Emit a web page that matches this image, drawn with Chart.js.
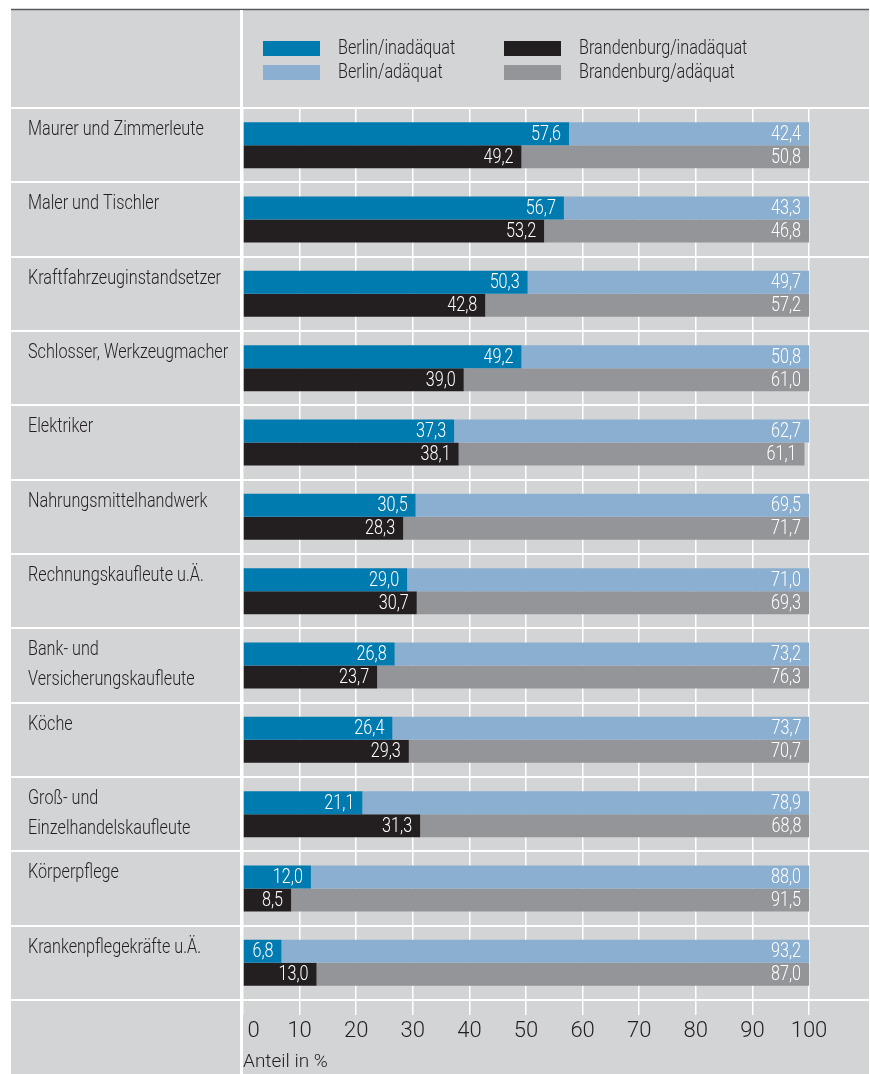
<!DOCTYPE html>
<html lang="de">
<head>
<meta charset="utf-8">
<title>Inadäquate / adäquate Beschäftigung nach Berufen</title>
<script src="https://cdn.jsdelivr.net/npm/chart.js@4.4.1/dist/chart.umd.min.js"></script>
<style>
  html, body { margin: 0; padding: 0; background: #fff; }
  #wrap { width: 870px; height: 1074px; }
</style>
</head>
<body>
<div id="wrap"><canvas id="shareChart" width="870" height="1074"></canvas></div>
<script>
const categories = [
  'Maurer und Zimmerleute',
  'Maler und Tischler',
  'Kraftfahrzeuginstandsetzer',
  'Schlosser, Werkzeugmacher',
  'Elektriker',
  'Nahrungsmittelhandwerk',
  'Rechnungskaufleute u.Ä.',
  ['Bank- und', 'Versicherungskaufleute'],
  'Köche',
  ['Groß- und', 'Einzelhandelskaufleute'],
  'Körperpflege',
  'Krankenpflegekräfte u.Ä.'
];
const berlinInadequate = [57.6, 56.7, 50.3, 49.2, 37.3, 30.5, 29.0, 26.8, 26.4, 21.1, 12.0, 6.8];
const berlinAdequate = [42.4, 43.3, 49.7, 50.8, 62.7, 69.5, 71.0, 73.2, 73.7, 78.9, 88.0, 93.2];
const brandenburgInadequate = [49.2, 53.2, 42.8, 39.0, 38.1, 28.3, 30.7, 23.7, 29.3, 31.3, 8.5, 13.0];
const brandenburgAdequate = [50.8, 46.8, 57.2, 61.0, 61.1, 71.7, 69.3, 76.3, 70.7, 68.8, 91.5, 87.0];
const tickValues = [0, 10, 20, 30, 40, 50, 60, 70, 80, 90, 100];
const axisTitle = 'Anteil in %';

(function () {
  'use strict';

  const FONT = 'Roboto, "Open Sans", sans-serif';
  const TEXT = '#231f20';
  const BG = '#d3d4d6';
  const SQUEEZE = 0.81; // the original uses a condensed face

  Chart.defaults.font.family = FONT;
  Chart.defaults.font.weight = 300;
  Chart.defaults.color = TEXT;

  const datasets = [
    { label: 'Berlin/inadäquat', data: berlinInadequate, backgroundColor: '#007bb0', stack: 'berlin' },
    { label: 'Berlin/adäquat', data: berlinAdequate, backgroundColor: '#8aafd0', stack: 'berlin' },
    { label: 'Brandenburg/inadäquat', data: brandenburgInadequate, backgroundColor: '#231f20', stack: 'brandenburg' },
    { label: 'Brandenburg/adäquat', data: brandenburgAdequate, backgroundColor: '#939598', stack: 'brandenburg' }
  ];

  function fmt(v) {
    return v.toFixed(1).replace('.', ',');
  }

  function squeezedText(ctx, text, x, y, align) {
    ctx.save();
    ctx.translate(x, y);
    ctx.scale(SQUEEZE, 1);
    ctx.textAlign = align;
    ctx.fillText(text, 0, 0);
    ctx.restore();
  }

  // gray panel, frame lines, row separators, category labels
  const panelPlugin = {
    id: 'panel',
    beforeDraw(chart) {
      const ctx = chart.ctx;
      ctx.save();
      ctx.fillStyle = BG;
      ctx.fillRect(11, 9, 858, 1074 - 9);
      ctx.strokeStyle = '#58595b';
      ctx.lineWidth = 1.5;
      ctx.beginPath();
      ctx.moveTo(11, 9.5);
      ctx.lineTo(869, 9.5);
      ctx.stroke();
      ctx.restore();
    },
    beforeDatasetsDraw(chart) {
      const ctx = chart.ctx;
      const y = chart.scales.y;
      const area = chart.chartArea;
      const step = (area.bottom - area.top) / categories.length;
      ctx.save();
      ctx.strokeStyle = '#ffffff';
      ctx.lineWidth = 2;
      for (let i = 0; i <= categories.length; i++) {
        const yy = Math.round(y.getPixelForValue(i) - step / 2);
        ctx.beginPath();
        ctx.moveTo(11, yy);
        ctx.lineTo(869, yy);
        ctx.stroke();
      }
      ctx.lineWidth = 3;
      ctx.beginPath();
      ctx.moveTo(241.5, 10);
      ctx.lineTo(241.5, 1074);
      ctx.stroke();

      ctx.fillStyle = TEXT;
      ctx.font = '300 20px ' + FONT;
      ctx.textBaseline = 'middle';
      categories.forEach((c, i) => {
        const top = y.getPixelForValue(i) - step / 2;
        const lines = Array.isArray(c) ? c : [c];
        lines.forEach((line, k) => squeezedText(ctx, line, 28, top + 22 + k * 30, 'left'));
      });
      ctx.restore();
    }
  };

  const valueLabelPlugin = {
    id: 'valueLabels',
    afterDatasetsDraw(chart) {
      const ctx = chart.ctx;
      ctx.save();
      ctx.fillStyle = '#ffffff';
      ctx.font = '300 20px ' + FONT;
      ctx.textBaseline = 'middle';
      chart.data.datasets.forEach((ds, i) => {
        chart.getDatasetMeta(i).data.forEach((bar, j) => {
          squeezedText(ctx, fmt(ds.data[j]), bar.x - 8, bar.y + 1, 'right');
        });
      });
      ctx.restore();
    }
  };

  const legendPlugin = {
    id: 'twoColumnLegend',
    afterDraw(chart) {
      const ctx = chart.ctx;
      const spots = [
        { x: 263, y: 41 }, { x: 263, y: 65 },
        { x: 504, y: 41 }, { x: 504, y: 65 }
      ];
      ctx.save();
      ctx.font = '300 20px ' + FONT;
      ctx.textBaseline = 'middle';
      chart.data.datasets.forEach((ds, i) => {
        const s = spots[i];
        ctx.fillStyle = ds.backgroundColor;
        ctx.fillRect(s.x, s.y, 57, 15);
        ctx.fillStyle = TEXT;
        squeezedText(ctx, ds.label, s.x + 75, s.y + 8, 'left');
      });
      ctx.restore();
    }
  };

  new Chart(document.getElementById('shareChart'), {
    type: 'bar',
    data: { labels: categories, datasets: datasets },
    plugins: [panelPlugin, valueLabelPlugin, legendPlugin],
    options: {
      responsive: false,
      animation: false,
      indexAxis: 'y',
      layout: { padding: { left: 243, right: 61, top: 108, bottom: 0 } },
      datasets: {
        bar: { categoryPercentage: 0.619, barPercentage: 1, borderWidth: 0 }
      },
      plugins: {
        legend: { display: false },
        tooltip: { enabled: false }
      },
      scales: {
        x: {
          stacked: true,
          min: 0,
          max: 100,
          afterBuildTicks: s => { s.ticks = tickValues.map(v => ({ value: v })); },
          afterFit: s => { s.height = 74; },
          border: { display: false },
          grid: { color: '#ffffff', lineWidth: 1.5, tickLength: 15, tickColor: '#ffffff' },
          ticks: {
            font: { size: 22, weight: 300 },
            color: TEXT,
            padding: 3,
            maxRotation: 0,
            // keep the zero clear of the white divider
            callback: v => (v === 0 ? '\u00a0\u00a0\u00a0\u00a00' : String(v))
          },
          title: {
            display: true,
            text: axisTitle,
            align: 'start',
            font: { size: 19, weight: 300 },
            color: TEXT,
            padding: { top: 0, bottom: 0 }
          }
        },
        y: { display: false }
      }
    }
  });
})();
</script>
</body>
</html>
